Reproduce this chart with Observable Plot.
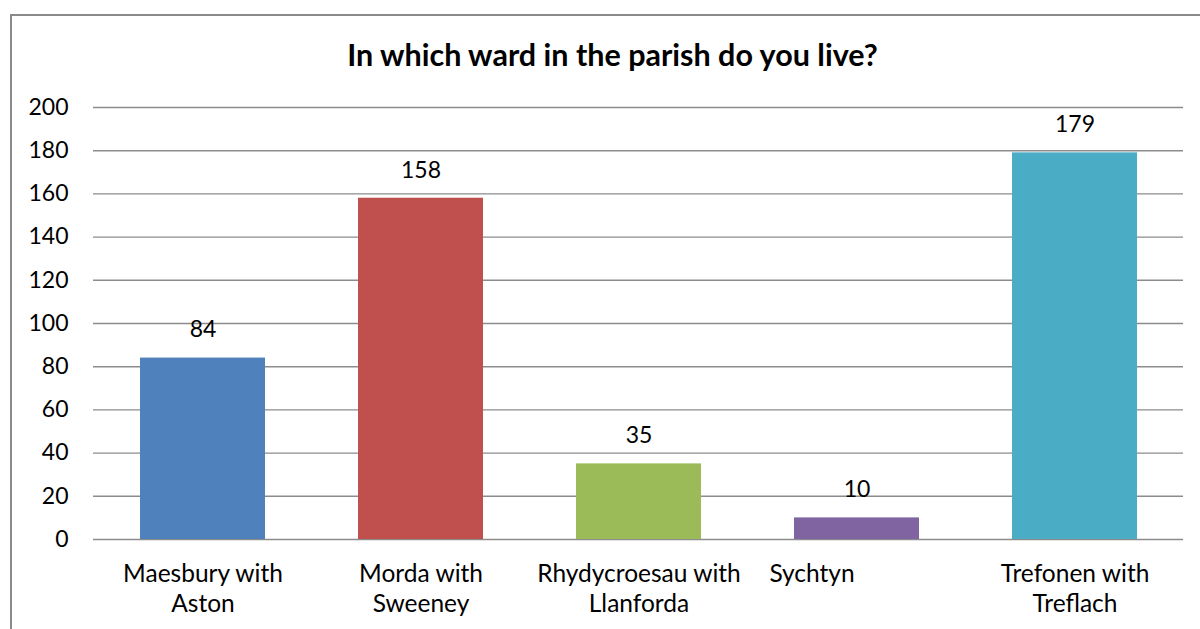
<!DOCTYPE html>
<html>
<head>
<meta charset="utf-8">
<script src="https://cdn.jsdelivr.net/npm/d3@7"></script>
<script src="https://cdn.jsdelivr.net/npm/@observablehq/plot@0.6"></script>
<style>
  html, body { margin: 0; padding: 0; background: #fff; overflow: hidden; }
  #wrap { position: relative; width: 1200px; height: 629px; }
  #border { position: absolute; left: 10px; top: 14px; width: 1300px; height: 700px; border: 2px solid #8a8a8a; box-sizing: border-box; }
  #chart { position: absolute; left: 0; top: 0; }
</style>
</head>
<body>
<div id="wrap"><div id="border"></div><div id="chart"></div></div>
<script>
const title = "In which ward in the parish do you live?";
const categories = ["Maesbury with Aston", "Morda with Sweeney", "Rhydycroesau with Llanforda", "Sychtyn", "Trefonen with Treflach"];
const labelLines = ["Maesbury with\nAston", "Morda with\nSweeney", "Rhydycroesau with\nLlanforda", "Sychtyn", "Trefonen with\nTreflach"];
const values = [84, 158, 35, 10, 179];
const colors = ["#4F81BD", "#C0504D", "#9BBB59", "#8064A2", "#4BACC6"];
const yTicks = [0, 20, 40, 60, 80, 100, 120, 140, 160, 180, 200];

const data = categories.map((c, i) => ({category: c, value: values[i], color: colors[i], label: labelLines[i]}));
const labelOf = new Map(data.map(d => [d.category, d.label]));
const font = "Lato, 'Open Sans', sans-serif";
const fs = 23;
const fsx = 24.5;

const plot = Plot.plot({
  width: 1200,
  height: 629,
  marginLeft: 93,
  marginRight: 17,
  marginTop: 107,
  marginBottom: 90,
  style: {fontFamily: font, fontSize: fs + "px", color: "#000", background: "transparent"},
  x: {domain: categories, paddingInner: 0.427, paddingOuter: 0.2135, axis: null, label: null},
  y: {domain: [0, 200], axis: null, label: null},
  marks: [
    Plot.ruleY(yTicks, {stroke: "#8c8c8c", strokeWidth: 1.4}),
    Plot.ruleX([0], {frameAnchor: "left", y1: 0, y2: 200, stroke: "#8c8c8c", strokeWidth: 1.6}),
    Plot.barY(data, {x: "category", y: "value", fill: "color"}),
    Plot.text(data, {x: "category", y: "value", text: d => String(d.value), dy: -28, fontSize: fs, fill: "#000"}),
    Plot.axisY({ticks: yTicks, tickSize: 0, tickPadding: 25, fontSize: fs, fill: "#000", label: null}),
    Plot.axisX({ticks: categories.filter(c => c !== "Sychtyn"), tickSize: 0, tickPadding: 21, fontSize: fsx, fill: "#000", lineHeight: 1.22, tickFormat: c => labelOf.get(c), textOverflow: null, label: null}),
    Plot.axisX({ticks: ["Sychtyn"], tickSize: 0, tickPadding: 21, dx: -45, fontSize: fsx, fill: "#000", lineHeight: 1.22, tickFormat: c => labelOf.get(c), label: null}),
    Plot.text([title], {frameAnchor: "top", dx: -26, dy: -63, fontSize: 30.5, fontWeight: "bold", fill: "#000"})
  ]
});
document.getElementById("chart").appendChild(plot);
</script>
</body>
</html>
